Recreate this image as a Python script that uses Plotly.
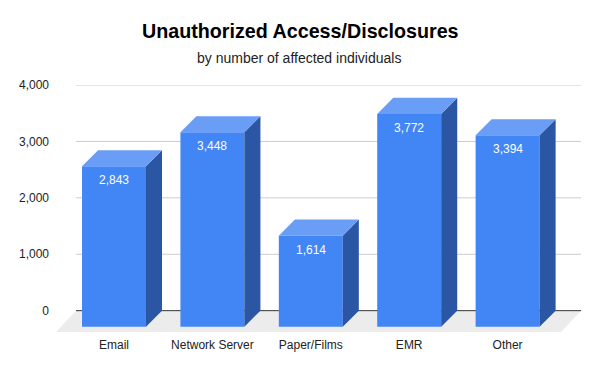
import plotly.graph_objects as go

categories = ["Email", "Network Server", "Paper/Films", "EMR", "Other"]
values = [2843, 3448, 1614, 3772, 3394]
y_ticks = [0, 1000, 2000, 3000, 4000]
y_tick_labels = ["0", "1,000", "2,000", "3,000", "4,000"]

FRONT = "#4285F4"
TOP = "#6A9DF6"
SIDE = "#2A56A3"

# pseudo-3D geometry (in axis units)
bar_w = 0.65          # front face width
dx = 0.163            # depth shift in x (category units)
dy = 284              # depth shift in y (value units)
floor_dx = 0.203
floor_dy = 378

x_left, x_right = -0.5894, 4.7459
y_bottom, y_top = -378, 4000

# page body has an 8px margin; compensate so the chart sits where intended
OFF = 8
W, H = 600, 371
ML, MR, MT, MB = 56 - OFF, 19 + OFF, 85 - OFF, 39 + OFF

xs = list(range(len(categories)))

fig = go.Figure()

shapes = []
# floor
fx = [x_left + floor_dx, x_right, x_right - floor_dx, x_left]
fy = [0, 0, -floor_dy, -floor_dy]
path = "M " + " L ".join(f"{a},{b}" for a, b in zip(fx, fy)) + " Z"
shapes.append(dict(type="path", path=path, xref="x", yref="y", layer="below",
                   fillcolor="#ECECEC", line=dict(width=0)))
# gridlines on back wall
for t in y_ticks:
    shapes.append(dict(type="line", xref="x", yref="y", layer="below",
                       x0=x_left + floor_dx, x1=x_right, y0=t, y1=t,
                       line=dict(color="#333333" if t == 0 else "#CCCCCC", width=1)))

# front faces
fig.add_trace(go.Bar(
    x=xs, y=values, base=[-dy] * len(values), width=bar_w,
    marker=dict(color=FRONT, line=dict(width=0)), showlegend=False,
    hovertemplate="%{text}<extra></extra>", text=[f"{v:,}" for v in values],
    textposition="none"))

# side and top faces
for x, v in zip(xs, values):
    x0, x1 = x - bar_w / 2, x + bar_w / 2
    fig.add_trace(go.Scatter(
        x=[x1, x1 + dx, x1 + dx, x1, x1], y=[-dy, 0, v, v - dy, -dy],
        fill="toself", fillcolor=SIDE, line=dict(width=0), mode="lines",
        hoverinfo="skip", showlegend=False))
    fig.add_trace(go.Scatter(
        x=[x0, x1, x1 + dx, x0 + dx, x0], y=[v - dy, v - dy, v, v, v - dy],
        fill="toself", fillcolor=TOP, line=dict(width=0), mode="lines",
        hoverinfo="skip", showlegend=False))

annotations = []
# value labels
for x, v in zip(xs, values):
    annotations.append(dict(
        x=x, y=v - dy, xref="x", yref="y", text=f"{v:,}", showarrow=False,
        yanchor="top", yshift=-5,
        font=dict(color="white", size=12, family="Arial, Liberation Sans")))

plot_h = H - MT - MB
plot_w = W - ML - MR


def paper_y(py):
    return (H - MB - (py - OFF)) / plot_h


def paper_x(px):
    return ((px - OFF) - ML) / plot_w


annotations.append(dict(
    text="<b>Unauthorized Access/Disclosures</b>", x=paper_x(300), y=paper_y(31),
    xref="paper", yref="paper", showarrow=False, yanchor="middle",
    font=dict(size=19.7, color="#000000")))
annotations.append(dict(
    text="by number of affected individuals", x=paper_x(299), y=paper_y(58),
    xref="paper", yref="paper", showarrow=False, yanchor="middle",
    font=dict(size=14, color="#222222")))

fig.update_layout(
    width=W, height=H,
    margin=dict(l=ML, r=MR, t=MT, b=MB),
    plot_bgcolor="white", paper_bgcolor="white",
    font=dict(family="Arial, Liberation Sans, sans-serif", size=12, color="#222222"),
    xaxis=dict(range=[x_left, x_right], tickvals=xs, ticktext=categories,
               showgrid=False, zeroline=False, showline=False, ticks="",
               ticklabelstandoff=4,
               tickfont=dict(size=12, color="#222222")),
    yaxis=dict(range=[y_bottom, y_top], tickvals=y_ticks, ticktext=y_tick_labels,
               showgrid=False, zeroline=False, showline=False, ticks="",
               ticklabelstandoff=6,
               tickfont=dict(size=12, color="#222222")),
    shapes=shapes,
    annotations=annotations,
)

fig.write_html("out.html")
